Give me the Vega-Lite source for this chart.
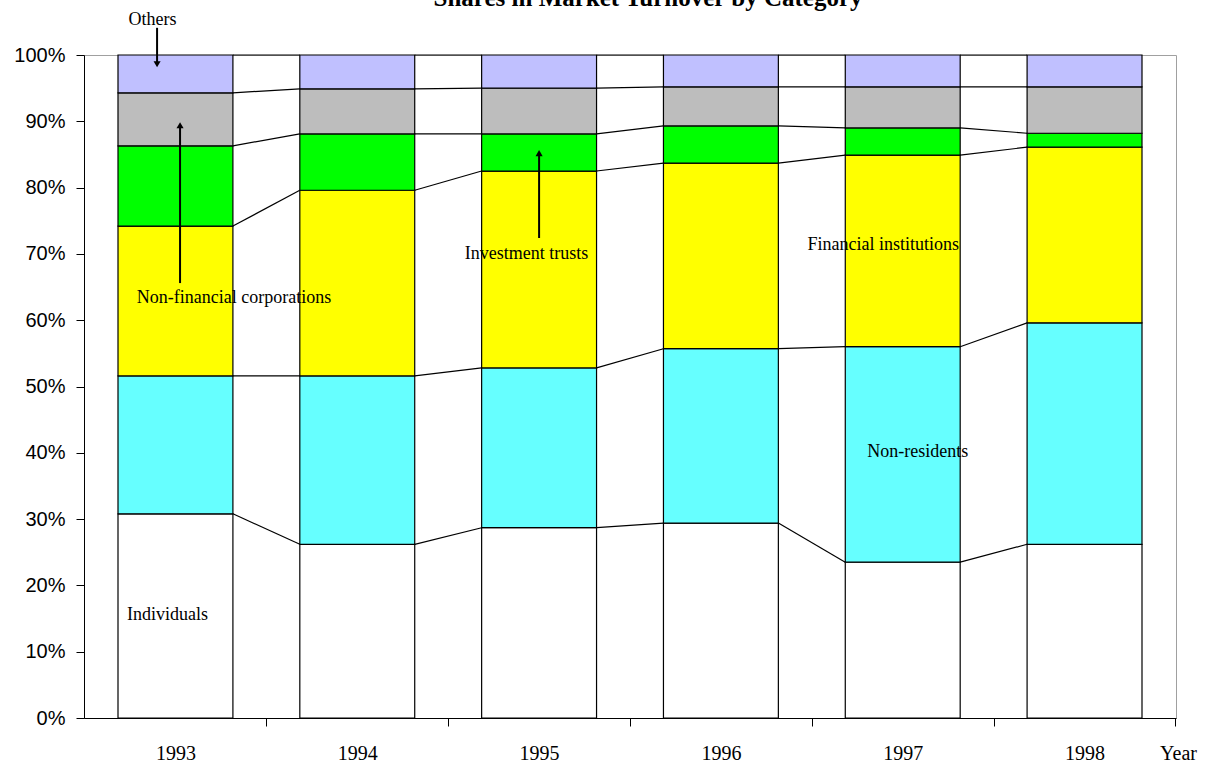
{
  "$schema": "https://vega.github.io/schema/vega-lite/v6.json",
  "autosize": "none",
  "width": 1092,
  "height": 663,
  "padding": {"left": 84, "top": 55, "right": 38, "bottom": 56},
  "background": "white",
  "title": {"text": "Shares in Market Turnover by Category", "font": "Liberation Serif", "fontSize": 25, "fontWeight": "bold", "color": "black", "anchor": "middle", "dx": 18, "dy": 20, "baseline": "alphabetic", "offset": 0},
  "config": {"view": {"stroke": "#a0a0a0", "strokeWidth": 1}},
  "datasets": {
    "shares": [
      {"Year": 1993, "Category": "Individuals", "Share": 30.8},
      {"Year": 1993, "Category": "Non-residents", "Share": 20.8},
      {"Year": 1993, "Category": "Financial institutions", "Share": 22.6},
      {"Year": 1993, "Category": "Investment trusts", "Share": 12.1},
      {"Year": 1993, "Category": "Non-financial corporations", "Share": 8.0},
      {"Year": 1993, "Category": "Others", "Share": 5.7},
      {"Year": 1994, "Category": "Individuals", "Share": 26.2},
      {"Year": 1994, "Category": "Non-residents", "Share": 25.4},
      {"Year": 1994, "Category": "Financial institutions", "Share": 28.0},
      {"Year": 1994, "Category": "Investment trusts", "Share": 8.5},
      {"Year": 1994, "Category": "Non-financial corporations", "Share": 6.8},
      {"Year": 1994, "Category": "Others", "Share": 5.1},
      {"Year": 1995, "Category": "Individuals", "Share": 28.7},
      {"Year": 1995, "Category": "Non-residents", "Share": 24.1},
      {"Year": 1995, "Category": "Financial institutions", "Share": 29.7},
      {"Year": 1995, "Category": "Investment trusts", "Share": 5.6},
      {"Year": 1995, "Category": "Non-financial corporations", "Share": 6.9},
      {"Year": 1995, "Category": "Others", "Share": 5.0},
      {"Year": 1996, "Category": "Individuals", "Share": 29.4},
      {"Year": 1996, "Category": "Non-residents", "Share": 26.3},
      {"Year": 1996, "Category": "Financial institutions", "Share": 28.0},
      {"Year": 1996, "Category": "Investment trusts", "Share": 5.6},
      {"Year": 1996, "Category": "Non-financial corporations", "Share": 5.9},
      {"Year": 1996, "Category": "Others", "Share": 4.8},
      {"Year": 1997, "Category": "Individuals", "Share": 23.5},
      {"Year": 1997, "Category": "Non-residents", "Share": 32.5},
      {"Year": 1997, "Category": "Financial institutions", "Share": 28.9},
      {"Year": 1997, "Category": "Investment trusts", "Share": 4.1},
      {"Year": 1997, "Category": "Non-financial corporations", "Share": 6.2},
      {"Year": 1997, "Category": "Others", "Share": 4.8},
      {"Year": 1998, "Category": "Individuals", "Share": 26.2},
      {"Year": 1998, "Category": "Non-residents", "Share": 33.4},
      {"Year": 1998, "Category": "Financial institutions", "Share": 26.5},
      {"Year": 1998, "Category": "Investment trusts", "Share": 2.1},
      {"Year": 1998, "Category": "Non-financial corporations", "Share": 7.0},
      {"Year": 1998, "Category": "Others", "Share": 4.8}
    ]
  },
  "layer": [
    {
      "data": {"name": "shares"},
      "transform": [{"stack": "Share", "groupby": ["Year"], "as": ["lo", "hi"]}],
      "mark": {"type": "bar", "stroke": "black", "strokeWidth": 1.2, "opacity": 1},
      "encoding": {
        "x": {"field": "Year", "type": "nominal", "scale": {"paddingInner": 0.368, "paddingOuter": 0.187},
          "axis": {"labelAngle": 0, "labelFont": "Liberation Serif", "labelFontSize": 20, "labelColor": "black", "labelPadding": 17,
            "domainColor": "black", "tickColor": "black", "tickSize": 8, "tickOffset": 90.9, "labelOffset": -90.9,
            "title": "Year", "titleFont": "Liberation Serif", "titleFontSize": 20, "titleFontWeight": "normal", "titleColor": "black",
            "titleX": 1094, "titleY": 35, "titleAlign": "center", "titleBaseline": "middle", "titleAnchor": null}},
        "y": {"field": "lo", "type": "quantitative", "scale": {"domain": [0, 100], "nice": false},
          "axis": {"values": [0, 10, 20, 30, 40, 50, 60, 70, 80, 90, 100], "labelExpr": "datum.value + '%'", "grid": false,
            "labelFont": "Liberation Sans", "labelFontSize": 20, "labelColor": "black", "labelPadding": 11,
            "domainColor": "black", "tickColor": "black", "tickSize": 8, "title": null}},
        "y2": {"field": "hi"},
        "color": {"field": "Category", "type": "nominal", "legend": null,
          "scale": {"domain": ["Individuals", "Non-residents", "Financial institutions", "Investment trusts", "Non-financial corporations", "Others"],
            "range": ["#ffffff", "#66ffff", "#ffff00", "#00ff00", "#bdbdbd", "#c0c0ff"]}}
      }
    },
    {
      "data": {"name": "shares"},
      "transform": [
        {"stack": "Share", "groupby": ["Year"], "as": ["lo", "hi"]},
        {"window": [{"op": "lead", "field": "hi", "as": "next_hi"}, {"op": "lead", "field": "Year", "as": "next_year"}], "groupby": ["Category"], "sort": [{"field": "Year", "order": "ascending"}]},
        {"filter": "datum.next_year != null"}
      ],
      "mark": {"type": "rule", "color": "black", "strokeWidth": 1.2},
      "encoding": {
        "x": {"field": "Year", "type": "nominal", "bandPosition": 1},
        "x2": {"field": "next_year", "bandPosition": 0},
        "y": {"field": "hi", "type": "quantitative"},
        "y2": {"field": "next_hi"}
      }
    },
    {
      "data": {"values": [{"label": "Others", "Year": 1993, "at": 105.3}]},
      "mark": {"type": "text", "font": "Liberation Serif", "fontSize": 18, "color": "black", "baseline": "middle"},
      "encoding": {"x": {"field": "Year", "type": "nominal", "bandPosition": 0.3}, "y": {"field": "at", "type": "quantitative"}, "text": {"field": "label"}}
    },
    {
      "data": {"values": [{"Year": 1993, "from": 104.1, "to": 98.6}]},
      "mark": {"type": "rule", "color": "black", "strokeWidth": 2},
      "encoding": {"x": {"field": "Year", "type": "nominal", "bandPosition": 0.34}, "y": {"field": "from", "type": "quantitative"}, "y2": {"field": "to"}}
    },
    {
      "data": {"values": [{"Year": 1993, "to": 98.6}]},
      "mark": {"type": "point", "shape": "triangle-down", "filled": true, "color": "black", "size": 50, "opacity": 1},
      "encoding": {"x": {"field": "Year", "type": "nominal", "bandPosition": 0.34}, "y": {"field": "to", "type": "quantitative"}}
    },
    {
      "data": {"values": [{"label": "Non-financial corporations", "Year": 1993, "at": 63.3}]},
      "mark": {"type": "text", "font": "Liberation Serif", "fontSize": 18, "color": "black", "baseline": "middle"},
      "encoding": {"x": {"field": "Year", "type": "nominal", "bandPosition": 1.01}, "y": {"field": "at", "type": "quantitative"}, "text": {"field": "label"}}
    },
    {
      "data": {"values": [{"Year": 1993, "from": 65.6, "to": 89.4}]},
      "mark": {"type": "rule", "color": "black", "strokeWidth": 2},
      "encoding": {"x": {"field": "Year", "type": "nominal", "bandPosition": 0.54}, "y": {"field": "from", "type": "quantitative"}, "y2": {"field": "to"}}
    },
    {
      "data": {"values": [{"Year": 1993, "to": 89.4}]},
      "mark": {"type": "point", "shape": "triangle-up", "filled": true, "color": "black", "size": 50, "opacity": 1},
      "encoding": {"x": {"field": "Year", "type": "nominal", "bandPosition": 0.54}, "y": {"field": "to", "type": "quantitative"}}
    },
    {
      "data": {"values": [{"label": "Investment trusts", "Year": 1995, "at": 70.0}]},
      "mark": {"type": "text", "font": "Liberation Serif", "fontSize": 18, "color": "black", "baseline": "middle"},
      "encoding": {"x": {"field": "Year", "type": "nominal", "bandPosition": 0.39}, "y": {"field": "at", "type": "quantitative"}, "text": {"field": "label"}}
    },
    {
      "data": {"values": [{"Year": 1995, "from": 72.4, "to": 85.2}]},
      "mark": {"type": "rule", "color": "black", "strokeWidth": 2},
      "encoding": {"x": {"field": "Year", "type": "nominal", "bandPosition": 0.5}, "y": {"field": "from", "type": "quantitative"}, "y2": {"field": "to"}}
    },
    {
      "data": {"values": [{"Year": 1995, "to": 85.2}]},
      "mark": {"type": "point", "shape": "triangle-up", "filled": true, "color": "black", "size": 50, "opacity": 1},
      "encoding": {"x": {"field": "Year", "type": "nominal", "bandPosition": 0.5}, "y": {"field": "to", "type": "quantitative"}}
    },
    {
      "data": {"values": [{"label": "Financial institutions", "Year": 1997, "at": 71.3}]},
      "mark": {"type": "text", "font": "Liberation Serif", "fontSize": 18, "color": "black", "baseline": "middle"},
      "encoding": {"x": {"field": "Year", "type": "nominal", "bandPosition": 0.33}, "y": {"field": "at", "type": "quantitative"}, "text": {"field": "label"}}
    },
    {
      "data": {"values": [{"label": "Non-residents", "Year": 1997, "at": 40.1}]},
      "mark": {"type": "text", "font": "Liberation Serif", "fontSize": 18, "color": "black", "baseline": "middle"},
      "encoding": {"x": {"field": "Year", "type": "nominal", "bandPosition": 0.63}, "y": {"field": "at", "type": "quantitative"}, "text": {"field": "label"}}
    },
    {
      "data": {"values": [{"label": "Individuals", "Year": 1993, "at": 15.5}]},
      "mark": {"type": "text", "font": "Liberation Serif", "fontSize": 18, "color": "black", "baseline": "middle"},
      "encoding": {"x": {"field": "Year", "type": "nominal", "bandPosition": 0.43}, "y": {"field": "at", "type": "quantitative"}, "text": {"field": "label"}}
    }
  ]
}
